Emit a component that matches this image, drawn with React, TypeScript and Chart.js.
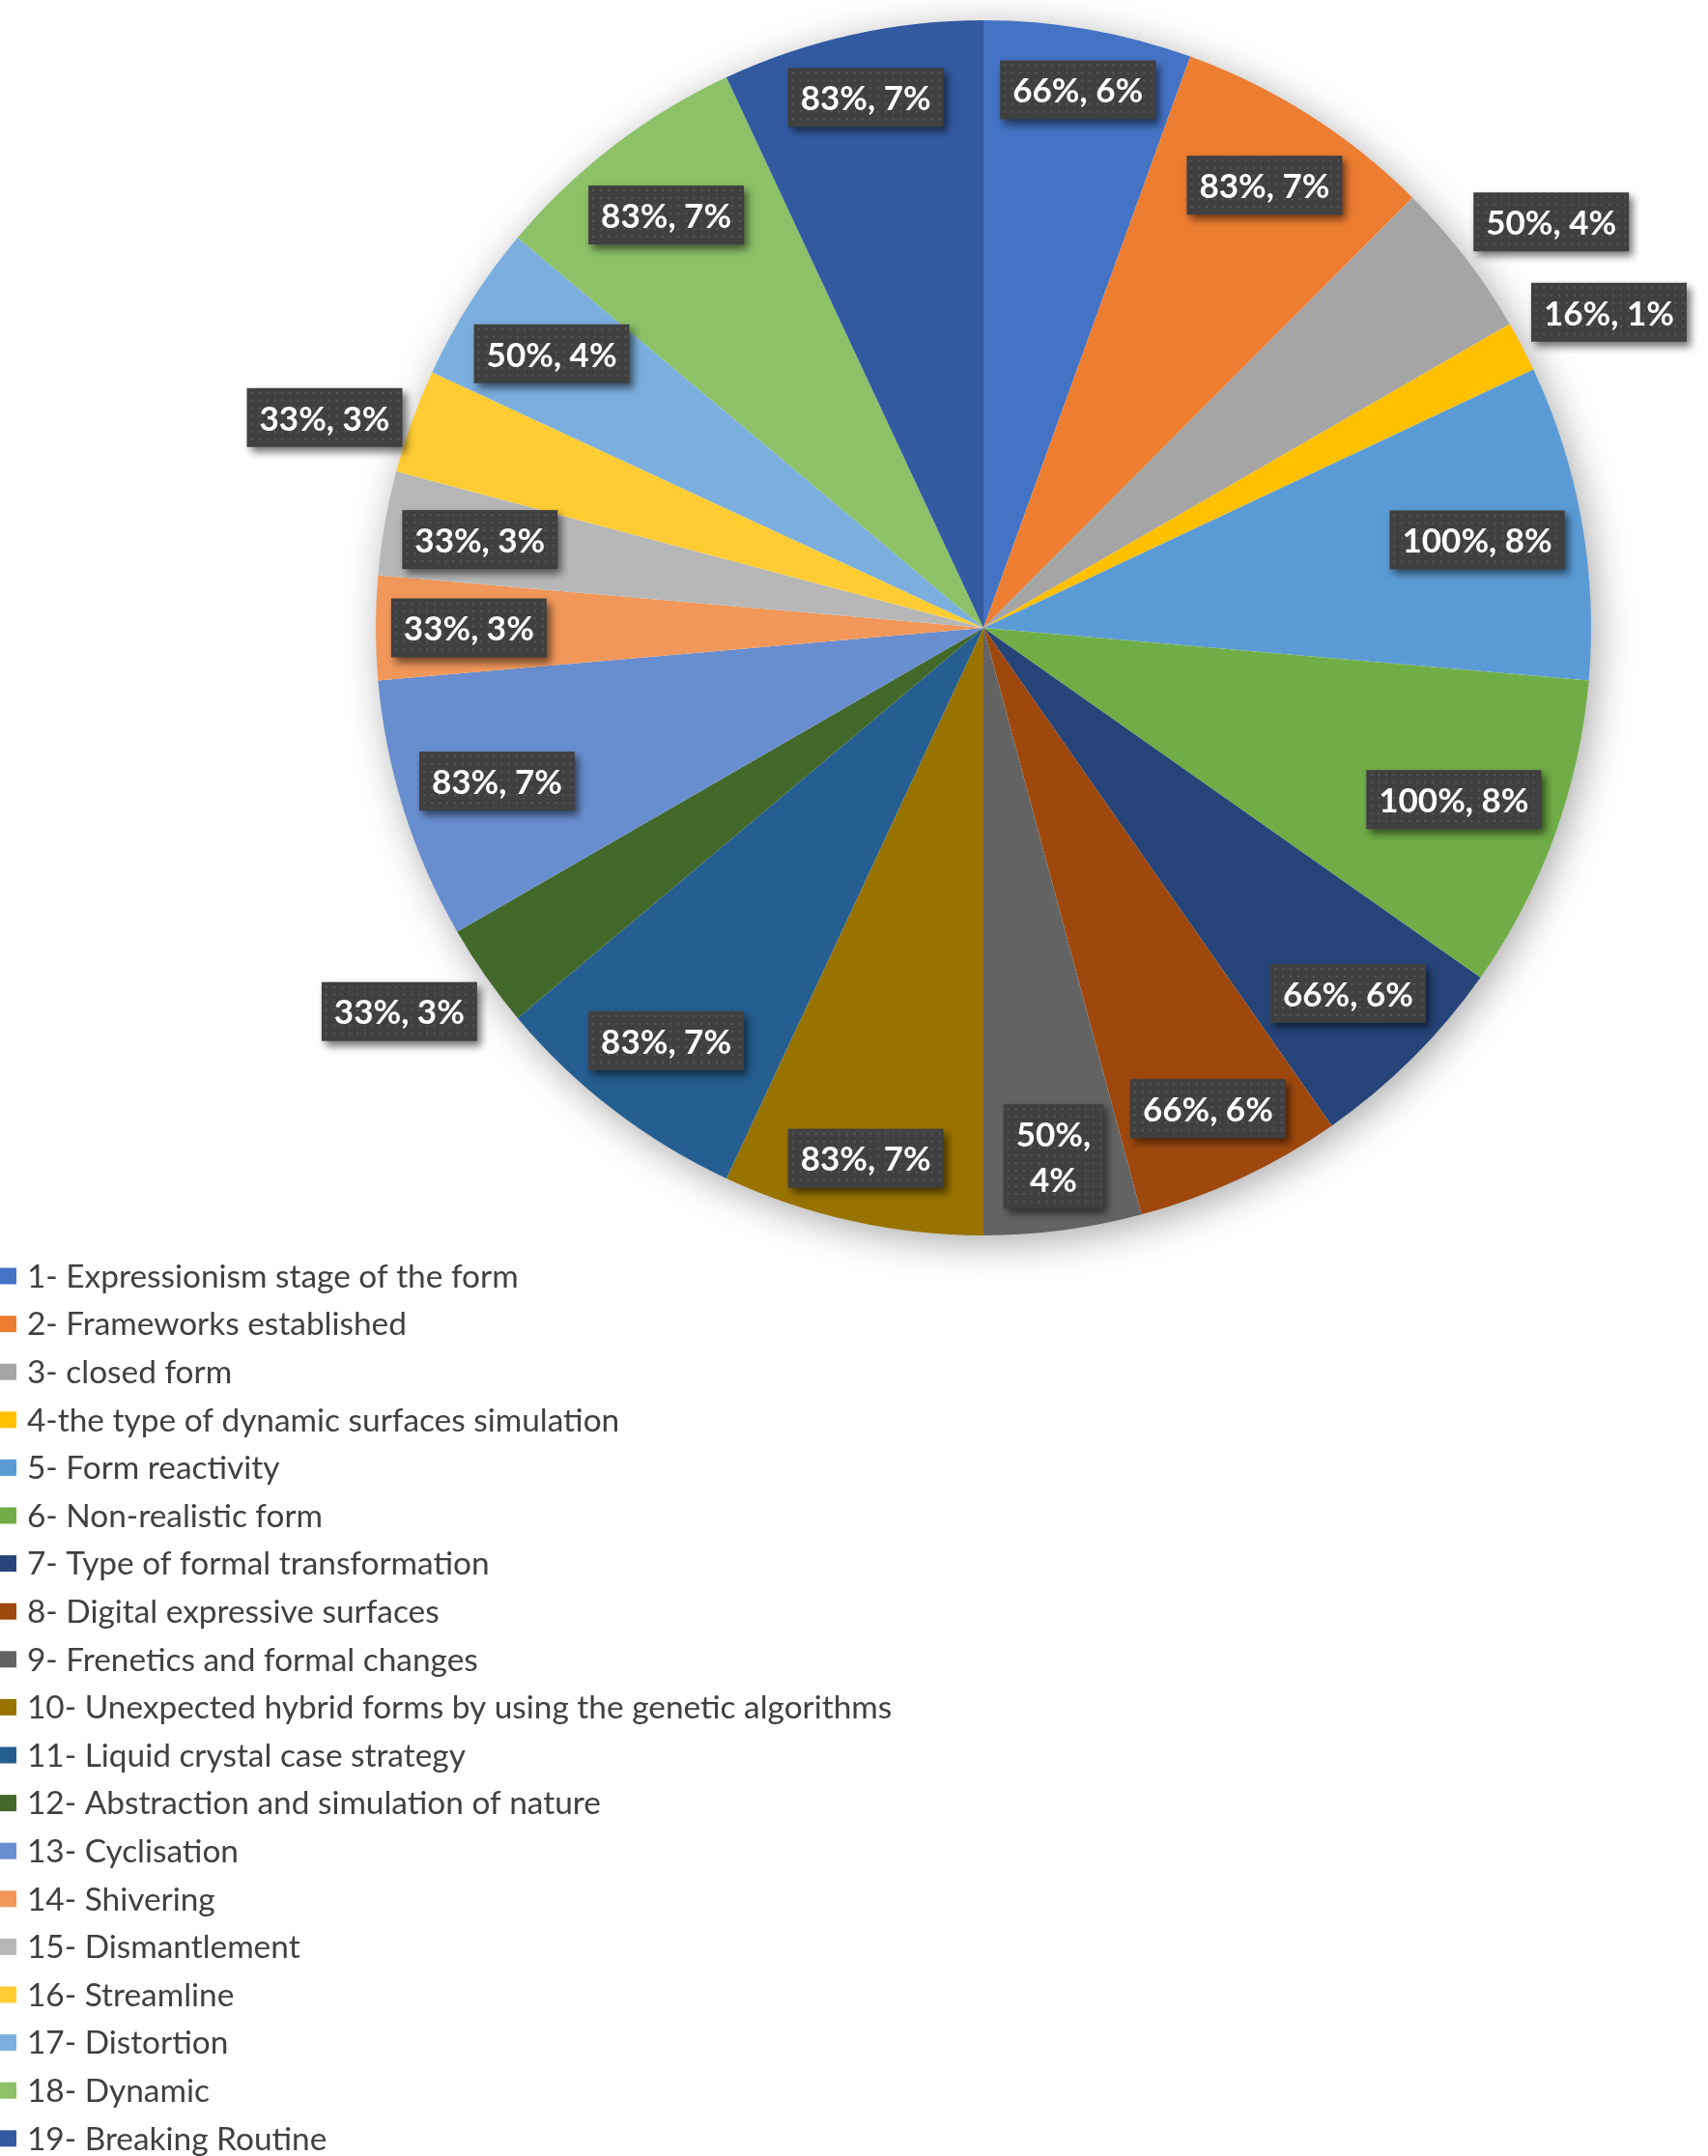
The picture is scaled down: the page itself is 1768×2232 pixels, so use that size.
import React, { useEffect, useRef } from "react";
import { Chart, registerables } from "chart.js";

Chart.register(...registerables);

const categories = [
  "1- Expressionism stage of the form",
  "2- Frameworks established",
  "3- closed form",
  "4-the type of dynamic surfaces simulation",
  "5- Form reactivity",
  "6- Non-realistic form",
  "7- Type of formal transformation",
  "8- Digital expressive surfaces",
  "9- Frenetics and formal changes",
  "10- Unexpected hybrid forms by using the genetic algorithms",
  "11- Liquid crystal case strategy",
  "12- Abstraction and simulation of nature",
  "13- Cyclisation",
  "14- Shivering",
  "15- Dismantlement",
  "16- Streamline",
  "17- Distortion",
  "18- Dynamic",
  "19- Breaking Routine",
];

const values = [66, 83, 50, 16, 100, 100, 66, 66, 50, 83, 83, 33, 83, 33, 33, 33, 50, 83, 83];

const colors = [
  "#4472C4", "#ED7D31", "#A5A5A5", "#FFC000", "#5B9BD5", "#70AD47", "#264478",
  "#9E480E", "#636363", "#997300", "#255E91", "#43682B", "#698ED0", "#F1975A",
  "#B7B7B7", "#FFCD33", "#7CAFDD", "#8CC168", "#335AA1",
];

// label placement style: "in" = inside near edge, "out" = just outside, "wrap" = inside, two lines
const labelPlacement = [
  "in", "in", "out", "out", "in", "in", "in", "in", "wrap", "in",
  "in", "out", "in", "in", "in", "out", "in", "in", "in",
];

const LABEL_FONT = "bold 35px Lato";
const LEGEND_FONT = "33.4px Lato";

const pieShadow = {
  id: "pieShadow",
  beforeDatasetsDraw(chart: any) {
    const meta = chart.getDatasetMeta(0);
    const arc = meta.data[0];
    if (!arc) return;
    const { x, y, outerRadius } = arc.getProps(["x", "y", "outerRadius"], true);
    const ctx = chart.ctx;
    ctx.save();
    ctx.shadowColor = "rgba(0,0,0,0.35)";
    ctx.shadowBlur = 40;
    ctx.shadowOffsetX = 6;
    ctx.shadowOffsetY = 8;
    ctx.fillStyle = "#ffffff";
    ctx.beginPath();
    ctx.arc(x, y, outerRadius - 1, 0, Math.PI * 2);
    ctx.fill();
    ctx.restore();
  },
};

function solve(f: (d: number) => number, target: number, lo: number, hi: number) {
  for (let i = 0; i < 60; i++) {
    const mid = (lo + hi) / 2;
    if (f(mid) < target) lo = mid;
    else hi = mid;
  }
  return (lo + hi) / 2;
}

const dataLabels = {
  id: "dataLabels",
  afterDatasetsDraw(chart: any) {
    const ctx = chart.ctx;
    const meta = chart.getDatasetMeta(0);
    const ds = chart.data.datasets[0].data as number[];
    const total = ds.reduce((a, b) => a + b, 0);
    meta.data.forEach((arc: any, i: number) => {
      const { x, y, startAngle, endAngle, outerRadius } = arc.getProps(
        ["x", "y", "startAngle", "endAngle", "outerRadius"],
        true
      );
      const mid = (startAngle + endAngle) / 2;
      const ux = Math.cos(mid);
      const uy = Math.sin(mid);
      const v = ds[i];
      const share = Math.round((v / total) * 100);
      const place = labelPlacement[i];
      const lines = place === "wrap" ? [`${v}%,`, `${share}%`] : [`${v}%, ${share}%`];
      ctx.save();
      ctx.font = LABEL_FONT;
      const tw = Math.max(...lines.map((l) => ctx.measureText(l).width));
      const lineH = 47;
      const w = tw + 26;
      const h = 61 + (lines.length - 1) * lineH;
      const R = outerRadius;
      let cx: number;
      let cy: number;
      if (place === "out") {
        // anchor on the mid ray just outside the pie, box aligned by 8 compass sectors
        const ax = x + R * 1.017 * ux;
        const ay = y + R * 1.017 * uy;
        let deg = (-mid * 180) / Math.PI;
        deg = ((deg % 360) + 360) % 360;
        let sx = 0;
        let sy = 0;
        if (deg <= 22.5 || deg > 337.5) { sx = 1; sy = 0; }
        else if (deg < 67.5) { sx = 1; sy = -1; }
        else if (deg < 112.5) { sx = 0; sy = -1; }
        else if (deg <= 157.5) { sx = -1; sy = -1; }
        else if (deg <= 202.5) { sx = -1; sy = 0; }
        else if (deg < 247.5) { sx = -1; sy = 1; }
        else if (deg < 292.5) { sx = 0; sy = 1; }
        else { sx = 1; sy = 1; }
        cx = ax + (sx * w) / 2;
        cy = ay + (sy * h) / 2;
      } else {
        const far = (dd: number) =>
          Math.hypot(Math.abs(dd * ux) + w / 2, Math.abs(dd * uy) + h / 2);
        const d = solve(far, R * 0.976, 0, R);
        cx = x + d * ux;
        cy = y + d * uy;
      }
      const bx = cx - w / 2;
      const by = cy - h / 2;
      // box with shadow
      ctx.shadowColor = "rgba(0,0,0,0.55)";
      ctx.shadowBlur = 8;
      ctx.shadowOffsetX = 4;
      ctx.shadowOffsetY = 5;
      ctx.fillStyle = "#404040";
      ctx.fillRect(bx, by, w, h);
      ctx.shadowColor = "transparent";
      ctx.shadowBlur = 0;
      ctx.shadowOffsetX = 0;
      ctx.shadowOffsetY = 0;
      // dotted pattern
      ctx.fillStyle = "rgba(255,255,255,0.12)";
      for (let py = by + 4; py < by + h - 2; py += 8) {
        for (let px = bx + 4; px < bx + w - 2; px += 8) {
          ctx.fillRect(px, py, 2, 2);
        }
      }
      ctx.fillStyle = "#ffffff";
      ctx.textAlign = "center";
      ctx.textBaseline = "middle";
      const startY = cy - ((lines.length - 1) * lineH) / 2;
      lines.forEach((l, k) => ctx.fillText(l, cx, startY + k * lineH + 2));
      ctx.restore();
    });
  },
};

const customLegend = {
  id: "customLegend",
  afterDraw(chart: any) {
    const ctx = chart.ctx;
    const labels = chart.data.labels as string[];
    const bg = chart.data.datasets[0].backgroundColor as string[];
    ctx.save();
    ctx.font = LEGEND_FONT;
    ctx.textBaseline = "middle";
    ctx.textAlign = "left";
    const y0 = 1321;
    const step = 49.6;
    labels.forEach((lab, i) => {
      const yc = y0 + i * step;
      ctx.fillStyle = bg[i];
      ctx.fillRect(0, yc - 8.5, 17, 17);
      ctx.fillStyle = "#404040";
      ctx.fillText(lab, 28, yc + 1);
    });
    ctx.restore();
  },
};

export default function App() {
  const ref = useRef<HTMLCanvasElement | null>(null);
  useEffect(() => {
    document.body.style.margin = "0";
    const canvas = ref.current!;
    const chart = new Chart(canvas, {
      type: "pie",
      data: {
        labels: categories,
        datasets: [
          {
            data: values,
            backgroundColor: colors,
            borderWidth: 0,
            hoverOffset: 0,
            offset: 0,
          },
        ],
      },
      options: {
        responsive: false,
        animation: false,
        devicePixelRatio: 1,
        layout: { padding: { left: 389, right: 121, top: 21, bottom: 953 } },
        plugins: {
          legend: { display: false },
          tooltip: { enabled: false },
        },
      },
      plugins: [pieShadow, dataLabels, customLegend],
    });
    return () => chart.destroy();
  }, []);
  return (
    <div style={{ width: 1768, height: 2232, background: "#fff" }}>
      <canvas ref={ref} width={1768} height={2232} style={{ display: "block" }} />
    </div>
  );
}
